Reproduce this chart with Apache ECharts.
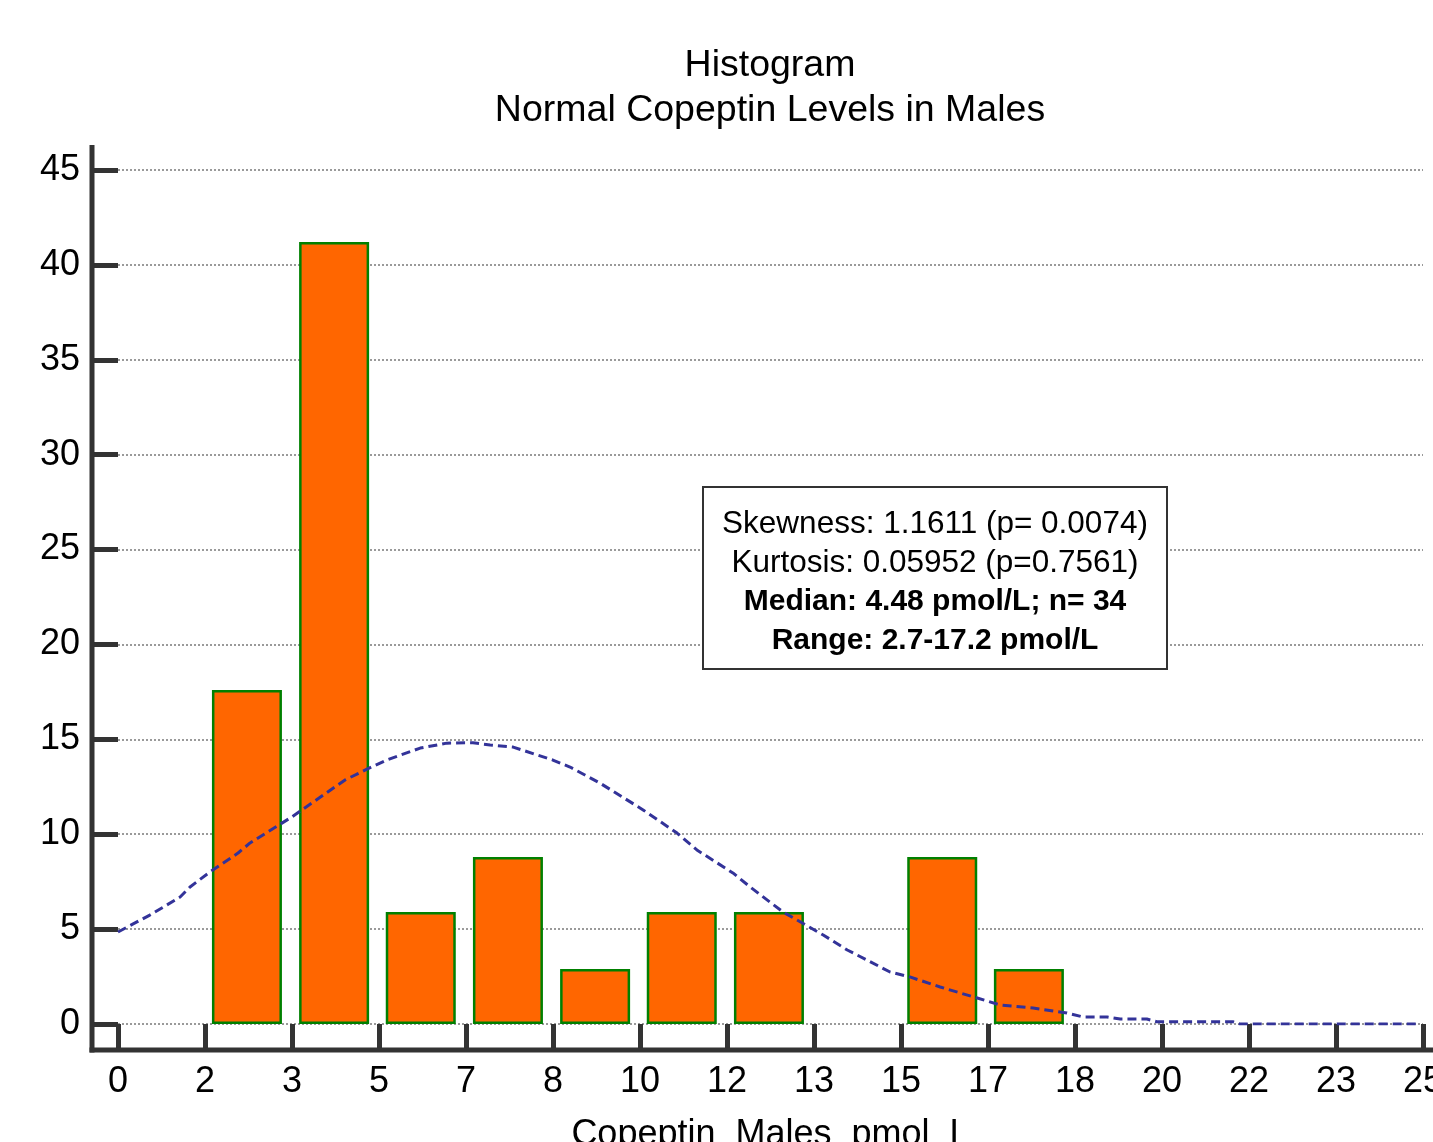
<!DOCTYPE html>
<html>
<head>
<meta charset="utf-8">
<script src="https://cdn.jsdelivr.net/npm/echarts@6/dist/echarts.min.js"></script>
<style>
    html, body { margin: 0; padding: 0; background: #fff; }
    #myChart { width: 1433px; height: 1142px; }
</style>
</head>
<body>
<div id="myChart"></div>
<script>
// bin centres (pmol/L) and bar heights (% of n=34)
var binCenters = [2.47, 4.14, 5.8, 7.47, 9.14, 10.8, 12.47, 14.13, 15.79, 17.45];
var binPercent = [17.6, 41.2, 5.9, 8.8, 2.9, 5.9, 5.9, 0, 8.8, 2.9];

// fitted normal curve
var curveX = [0, 0.61, 1.19, 1.38, 1.76, 2.3, 2.53, 3.33, 4.35, 4.77, 5.15, 5.79, 6.3, 6.8, 7.13, 7.57,
    8.33, 8.66, 9.23, 10.06, 10.71, 11.09, 11.78, 12.11, 12.74, 13.51, 13.97, 14.35, 14.79, 15.17,
    15.75, 16.46, 16.9, 17.53, 18.18, 18.49, 18.95, 19.2, 19.71, 19.9, 21.36, 21.49, 24.94];
var curveY = [4.85, 5.74, 6.69, 7.22, 8.01, 9.01, 9.54, 10.91, 12.86, 13.43, 13.91, 14.54, 14.8, 14.82, 14.7, 14.59,
    13.91, 13.54, 12.7, 11.28, 10.06, 9.17, 7.96, 7.22, 5.9, 4.69, 3.9, 3.37, 2.74, 2.48,
    1.95, 1.37, 1.0, 0.84, 0.58, 0.37, 0.37, 0.26, 0.26, 0.12, 0.12, 0, 0];

var titleLines = ['Histogram', 'Normal Copeptin Levels in Males'];
var statLines = [
    'Skewness: 1.1611 (p= 0.0074)',
    'Kurtosis: 0.05952 (p=0.7561)',
    'Median: 4.48 pmol/L; n= 34',
    'Range: 2.7-17.2 pmol/L'
];

var FONT = '"Liberation Sans", Arial, sans-serif';
var AX = '#333333';
var grid = { left: 118, right: 10, top: 170, bottom: 118, containLabel: false, outerBoundsMode: 'none' };
var off = 26;

var barData = [];
for (var i = 0; i < binCenters.length; i++) {
    if (binPercent[i] > 0) barData.push([binCenters[i], binPercent[i]]);   // empty bin: no bar
}
var curveData = [];
for (var j = 0; j < curveX.length; j++) {
    curveData.push([curveX[j], curveY[j]]);
}

var myChart = echarts.init(document.getElementById('myChart'));
var W = 1433, H = 1142;
var axisX = grid.left - off;          // y axis line position
var axisY = H - grid.bottom + off;    // x axis line position

var boxL = 703, boxT = 487, boxW = 464, boxH = 182;
var statEls = [{
    type: 'rect',
    shape: { x: boxL, y: boxT, width: boxW, height: boxH },
    style: { fill: '#fff', stroke: AX, lineWidth: 2 },
    z: 100
}];
for (var k = 0; k < statLines.length; k++) {
    statEls.push({
        type: 'text',
        x: boxL + boxW / 2,
        y: boxT + 37 + k * 39,
        z: 101,
        style: {
            text: statLines[k],
            font: (k >= 2 ? 'bold 30px ' : '31.5px ') + FONT,
            fill: '#000',
            align: 'center',
            verticalAlign: 'middle'
        }
    });
}

var option = {
    animation: false,
    backgroundColor: '#fff',
    title: {
        text: titleLines.join('\n'),
        left: 765,
        top: 38,
        textAlign: 'center',
        textStyle: { fontFamily: FONT, fontSize: 37.5, fontWeight: 'normal', color: '#000', lineHeight: 45 }
    },
    grid: grid,
    xAxis: {
        type: 'value',
        min: 0,
        max: 25,
        interval: 25 / 15,
        offset: off,
        axisLine: { show: false },
        axisTick: { show: true, inside: false, length: 26, lineStyle: { color: AX, width: 5 } },
        axisLabel: {
            margin: 14, fontSize: 36, fontFamily: FONT, color: '#000',
            formatter: function (v) { return Math.round(v); }
        },
        splitLine: { show: false },
        name: 'Copeptin_Males_pmol_L',
        nameLocation: 'middle',
        nameGap: 67,
        nameTextStyle: { fontSize: 36, fontFamily: FONT, color: '#000' }
    },
    yAxis: {
        type: 'value',
        min: 0,
        max: 45,
        interval: 5,
        offset: off,
        axisLine: { show: false },
        axisTick: { show: true, inside: false, length: 26, lineStyle: { color: AX, width: 5 } },
        axisLabel: { margin: 12, fontSize: 36, fontFamily: FONT, color: '#000' },
        splitLine: { show: true, lineStyle: { color: '#9a9a9a', width: 2, type: [2, 2] } }
    },
    series: [
        {
            type: 'bar',
            data: barData,
            barWidth: 70,
            itemStyle: { color: '#ff6600', borderColor: '#008000', borderWidth: 2.5 },
            z: 2
        },
        {
            type: 'line',
            data: curveData,
            showSymbol: false,
            symbol: 'none',
            lineStyle: { color: '#333399', width: 3, type: [9, 5] },
            z: 3
        }
    ],
    graphic: [
        {
            type: 'line',
            shape: { x1: axisX, y1: 145, x2: axisX, y2: axisY + 2.5 },
            style: { stroke: AX, lineWidth: 5 },
            z: 10
        },
        {
            type: 'line',
            shape: { x1: axisX - 2.5, y1: axisY, x2: W, y2: axisY },
            style: { stroke: AX, lineWidth: 5 },
            z: 10
        },
        {
            type: 'group',
            children: statEls
        }
    ]
};
myChart.setOption(option);
</script>
</body>
</html>
